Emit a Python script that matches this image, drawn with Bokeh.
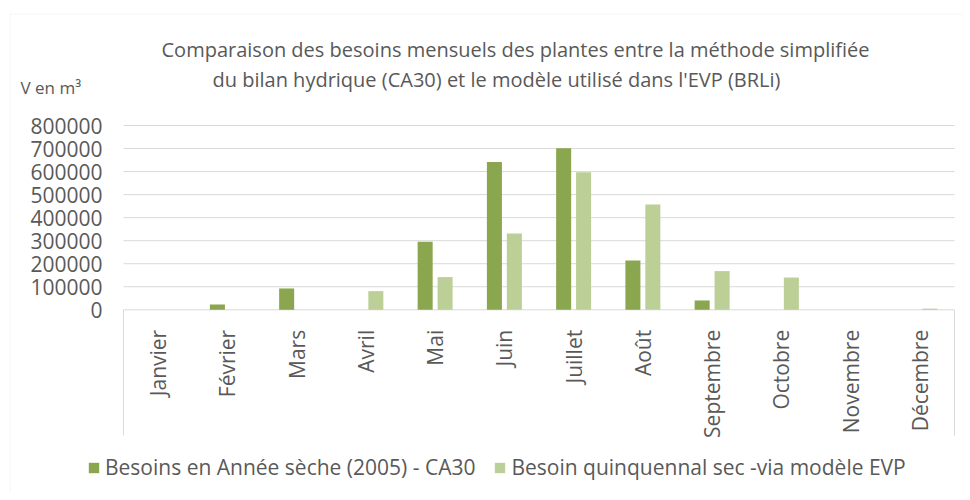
import math
from bokeh.plotting import figure
from bokeh.models import (ColumnDataSource, Range1d, FixedTicker, LinearAxis,
                          Legend, LegendItem, Label, BoxAnnotation)
from bokeh.embed import file_html
from bokeh.resources import INLINE

# ---------------- data ----------------
months = ["Janvier", "Février", "Mars", "Avril", "Mai", "Juin", "Juillet",
          "Août", "Septembre", "Octobre", "Novembre", "Décembre"]
besoins_ca30 = [0, 23000, 92600, 0, 295000, 642000, 701700, 214000, 40500, 0, 0, 0]
besoins_evp = [0, 0, 0, 81000, 142000, 331000, 597500, 457000, 168000, 140000, 0, 5000]
y_ticks = [0, 100000, 200000, 300000, 400000, 500000, 600000, 700000, 800000]
series_names = ["Besoins en Année sèche (2005) - CA30",
                "Besoin quinquennal sec -via modèle EVP"]
title_lines = ["Comparaison des besoins mensuels des plantes entre la méthode simplifiée",
               "du bilan hydrique (CA30) et le modèle utilisé dans l'EVP (BRLi)"]
unit_label = "V en m³"

# ---------------- layout (pixels) ----------------
W, H = 962, 492
PLOT_L, PLOT_R = 123, 954          # category axis extent
ZERO_Y, TOP_Y = 309.3, 125.0       # pixel rows of 0 and of the top tick
AXIS_BOTTOM = 435                  # bottom of the category-axis side lines
n = len(months)
px_x = (PLOT_R - PLOT_L) / n
px_y = (ZERO_Y - TOP_Y) / y_ticks[-1]
x_start, x_end = -PLOT_L / px_x, n + (W - PLOT_R) / px_x
y_start, y_end = -(H - ZERO_Y) / px_y, ZERO_Y / px_y
axis_bottom_val = -(AXIS_BOTTOM - ZERO_Y) / px_y

TXT = "#595959"
GRID = "#d9d9d9"
DARK = "#8aa64e"
LIGHT = "#bbcf97"
FONT = "Open Sans"

idx = [i + 0.5 for i in range(n)]
src = ColumnDataSource(dict(
    x1=[c - 0.144 for c in idx], x2=[c + 0.144 for c in idx],
    ca30=besoins_ca30, evp=besoins_evp))

p = figure(width=W, height=H, x_range=Range1d(x_start, x_end),
           y_range=Range1d(y_start, y_end), output_backend="svg",
           toolbar_location=None, x_axis_type=None, y_axis_type=None,
           min_border=0)
p.outline_line_color = None
p.grid.visible = False
p.background_fill_color = "white"
p.border_fill_color = "white"

# chart-area border (left and top edges visible)
p.add_layout(BoxAnnotation(left=9.5, right=W + 50, top=H - 13.5, bottom=-50,
                           left_units="screen", right_units="screen",
                           top_units="screen", bottom_units="screen",
                           fill_alpha=0, line_color=GRID, line_width=1,
                           level="underlay"))

# gridlines (value axis)
p.segment(x0=[0] * len(y_ticks), x1=[n] * len(y_ticks), y0=y_ticks, y1=y_ticks,
          line_color=GRID, line_width=1)
# category axis side lines
p.segment(x0=[0, n], x1=[0, n], y0=[0, 0], y1=[axis_bottom_val] * 2,
          line_color=GRID, line_width=1)

r1 = p.vbar(x="x1", top="ca30", width=0.217, source=src,
            fill_color=DARK, line_color=None)
r2 = p.vbar(x="x2", top="evp", width=0.217, source=src,
            fill_color=LIGHT, line_color=None)

# value axis
yaxis = LinearAxis(fixed_location=0, ticker=FixedTicker(ticks=y_ticks),
                   major_label_overrides={t: str(t) for t in y_ticks})
yaxis.axis_line_color = None
yaxis.major_tick_line_color = None
yaxis.minor_tick_line_color = None
yaxis.major_label_standoff = 15
yaxis.major_label_text_font = FONT
yaxis.major_label_text_font_size = "21px"
yaxis.major_label_text_color = TXT
p.add_layout(yaxis, "left")

# category axis
xaxis = LinearAxis(fixed_location=0, ticker=FixedTicker(ticks=idx),
                   major_label_overrides={c: m for c, m in zip(idx, months)})
xaxis.axis_line_color = None
xaxis.major_tick_line_color = None
xaxis.minor_tick_line_color = None
xaxis.major_label_orientation = math.pi / 2
xaxis.major_label_standoff = 14
xaxis.major_label_text_font = FONT
xaxis.major_label_text_font_size = "21px"
xaxis.major_label_text_color = TXT
p.add_layout(xaxis, "below")

# legend
legend = Legend(items=[LegendItem(label=series_names[0], renderers=[r1]),
                       LegendItem(label=series_names[1], renderers=[r2])],
                orientation="horizontal", location=(87, 11), padding=0, margin=0,
                spacing=18, glyph_width=13, glyph_height=13, label_standoff=5,
                label_height=20, border_line_color=None, background_fill_alpha=0,
                label_text_font=FONT, label_text_font_size="21px",
                label_text_color=TXT)
p.add_layout(legend)

# titles and unit label
p.add_layout(Label(x=515, y=H - 49, x_units="screen", y_units="screen",
                   text=title_lines[0], text_font=FONT, text_font_size="20px",
                   text_color=TXT, text_baseline="alphabetic", text_align="center"))
p.add_layout(Label(x=496, y=H - 79, x_units="screen", y_units="screen",
                   text=title_lines[1], text_font=FONT, text_font_size="20px",
                   text_color=TXT, text_baseline="alphabetic", text_align="center"))
p.add_layout(Label(x=20, y=H - 87, x_units="screen", y_units="screen",
                   text=unit_label, text_font=FONT, text_font_size="17px",
                   text_color=TXT, text_baseline="alphabetic"))

open("out.html", "w").write(file_html(p, INLINE))
